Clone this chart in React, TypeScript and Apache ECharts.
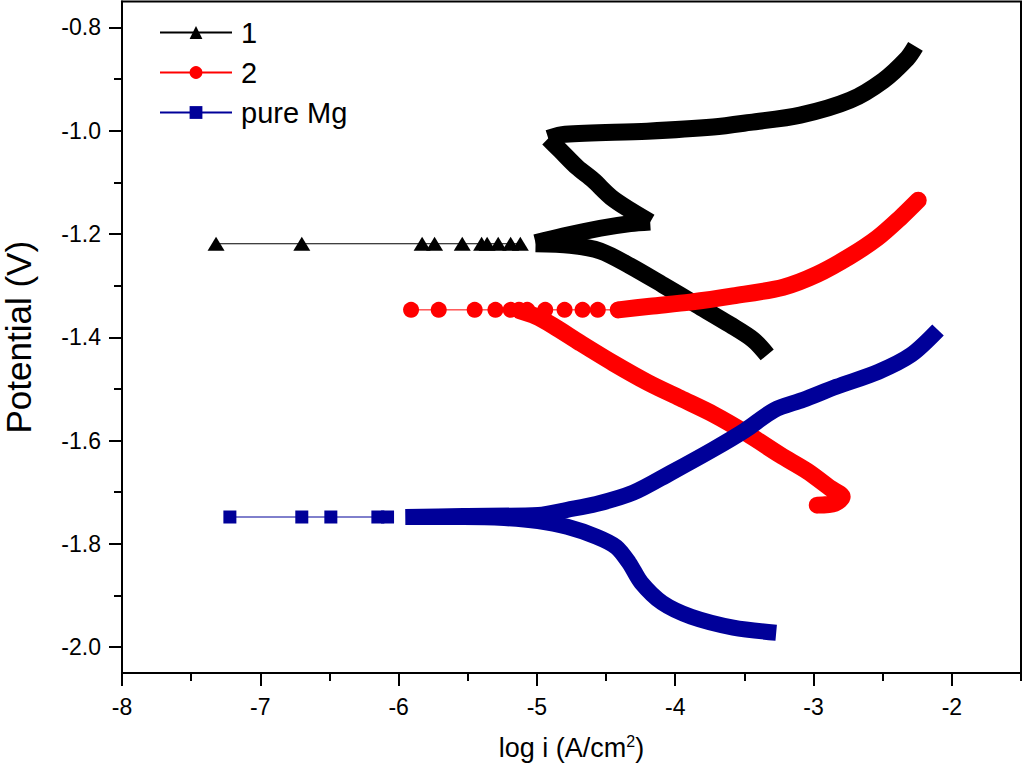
import React, { useEffect, useRef } from "react";
import * as echarts from "echarts";

// ---- axis ticks ----
const xMajorTicks = [-8, -7, -6, -5, -4, -3, -2];
const xMinorTicks = [-7.5, -6.5, -5.5, -4.5, -3.5, -2.5, -1.5];
const yMajorTicks = [-2.0, -1.8, -1.6, -1.4, -1.2, -1.0, -0.8];
const yMinorTicks = [-1.9, -1.7, -1.5, -1.3, -1.1, -0.9];

const seriesNames = ["1", "2", "pure Mg"];

// ---- sample 1 (black, triangles) : [log i, E] ----
const s1Sparse: number[][] = [
  [-7.32, -1.219], [-6.70, -1.219], [-5.83, -1.219], [-5.74, -1.219], [-5.54, -1.219],
  [-5.40, -1.219], [-5.36, -1.219], [-5.28, -1.219], [-5.19, -1.219], [-5.12, -1.219],
];
const s1Cathodic: number[][] = [
  [-3.335, -1.434], [-3.436, -1.405], [-3.602, -1.376], [-3.841, -1.338], [-4.087, -1.299],
  [-4.325, -1.262], [-4.542, -1.233], [-4.759, -1.222], [-5.01, -1.219],
];
const s1Rise: number[][] = [
  [-5.01, -1.217], [-4.81, -1.204], [-4.542, -1.189], [-4.325, -1.180], [-4.181, -1.177],
];
const s1Return: number[][] = [
  [-4.181, -1.177], [-4.325, -1.154], [-4.463, -1.129], [-4.593, -1.096], [-4.709, -1.071],
  [-4.832, -1.038], [-4.918, -1.015],
];
const s1Upper: number[][] = [
  [-4.918, -1.015], [-4.796, -1.007], [-4.202, -1.001], [-3.725, -0.993], [-3.458, -0.984],
  [-3.096, -0.970], [-2.735, -0.941], [-2.496, -0.903], [-2.322, -0.860], [-2.263, -0.837],
];

// ---- sample 2 (red, circles) ----
const s2Sparse: number[][] = [
  [-5.91, -1.347], [-5.71, -1.347], [-5.45, -1.347], [-5.30, -1.347], [-5.19, -1.347],
  [-5.13, -1.347], [-5.07, -1.347], [-4.94, -1.347], [-4.80, -1.347], [-4.67, -1.347],
  [-4.56, -1.347], [-4.41, -1.347],
];
const s2Cathodic: number[][] = [
  [-2.973, -1.725], [-2.843, -1.721], [-2.793, -1.709], [-2.879, -1.692], [-3.046, -1.659],
  [-3.241, -1.628], [-3.479, -1.587], [-3.725, -1.549], [-3.964, -1.518], [-4.202, -1.487],
  [-4.448, -1.450], [-4.687, -1.411], [-4.882, -1.378], [-5.012, -1.359], [-5.121, -1.349],
];
const s2Anodic: number[][] = [
  [-4.412, -1.347], [-4.181, -1.340], [-3.892, -1.332], [-3.581, -1.320], [-3.219, -1.303],
  [-2.973, -1.278], [-2.735, -1.243], [-2.539, -1.208], [-2.373, -1.169], [-2.243, -1.135],
];

// ---- pure Mg (blue, squares) ----
const s3Sparse: number[][] = [
  [-7.22, -1.748], [-6.70, -1.748], [-6.49, -1.748], [-6.15, -1.748], [-6.08, -1.748],
];
const s3Cathodic: number[][] = [
  [-3.27, -1.972], [-3.581, -1.962], [-3.884, -1.941], [-4.094, -1.914], [-4.246, -1.875],
  [-4.333, -1.837], [-4.427, -1.806], [-4.571, -1.786], [-4.781, -1.767], [-4.991, -1.756],
  [-5.236, -1.750], [-5.533, -1.748], [-5.95, -1.748],
];
const s3Anodic: number[][] = [
  [-5.95, -1.748], [-5.533, -1.746], [-4.991, -1.744], [-4.781, -1.734], [-4.571, -1.723],
  [-4.304, -1.701], [-4.036, -1.663], [-3.732, -1.618], [-3.494, -1.580], [-3.284, -1.541],
  [-3.074, -1.521], [-2.836, -1.496], [-2.532, -1.467], [-2.294, -1.434], [-2.10, -1.386],
];

const colors = ["#000000", "#ff0000", "#000099"];
const symbols = ["triangle", "circle", "rect"];
const symbolSizes: any[] = [[17, 14], 16, 13];
const bandWidths = [17, 17, 16];
const caps = ["butt", "round", "butt"];

const FONT = "'Liberation Sans', Arial, Helvetica, sans-serif";

export default function App() {
  const ref = useRef<HTMLDivElement>(null);

  useEffect(() => {
    if (!ref.current) return;
    const chart = echarts.init(ref.current, undefined, { renderer: "svg" });

    const groups: number[][][][] = [
      [s1Sparse, s1Cathodic, s1Rise, s1Return, s1Upper],
      [s2Sparse, s2Cathodic, s2Anodic],
      [s3Sparse, s3Cathodic, s3Anodic],
    ];

    const series: any[] = [];
    groups.forEach((g, i) => {
      series.push({
        name: seriesNames[i],
        type: "line",
        data: g[0],
        symbol: symbols[i],
        symbolSize: symbolSizes[i],
        showAllSymbol: true,
        itemStyle: { color: colors[i] },
        lineStyle: { color: colors[i], width: 1 },
        z: 3 + i,
      });
      g.slice(1).forEach((d) => {
        series.push({
          name: seriesNames[i],
          type: "line",
          data: d,
          symbol: "none",
          smooth: 0.3,
          itemStyle: { color: colors[i] },
          lineStyle: { color: colors[i], width: bandWidths[i], cap: caps[i], join: "round" },
          z: 3 + i,
        });
      });
    });

    const axisLineStyle = { color: "#000", width: 2 };
    const labelStyle = { color: "#000", fontSize: 23, fontFamily: FONT };

    chart.setOption({
      animation: false,
      backgroundColor: "#fff",
      grid: {
        left: 122,
        right: 3,
        top: 1.5,
        bottom: 102,
        containLabel: false,
        outerBoundsMode: "none",
        show: true,
        borderColor: "#000",
        borderWidth: 2,
        backgroundColor: "transparent",
      },
      legend: {
        data: seriesNames,
        orient: "vertical",
        left: 154,
        top: 13,
        itemWidth: 72,
        itemHeight: 16,
        itemGap: 11,
        selectedMode: false,
        textStyle: { color: "#000", fontSize: 29, fontFamily: FONT, padding: [0, 0, 0, 4] },
      },
      xAxis: [
        {
          type: "value",
          min: -8,
          max: -1.5,
          position: "bottom",
          axisLine: { show: true, lineStyle: axisLineStyle },
          axisTick: { show: true, inside: false, length: 13, customValues: xMajorTicks, lineStyle: axisLineStyle },
          axisLabel: { customValues: xMajorTicks, margin: 22, ...labelStyle },
          splitLine: { show: false },
          name: "log i (A/cm{sup|2})",
          nameLocation: "middle",
          nameGap: 60,
          nameTextStyle: {
            color: "#000",
            fontSize: 27,
            fontFamily: FONT,
            rich: {
              sup: { fontSize: 16, fontFamily: FONT, color: "#000", verticalAlign: "top", padding: [0, 0, 14, 0] },
            },
          },
        },
        {
          type: "value",
          min: -8,
          max: -1.5,
          position: "bottom",
          axisLine: { show: false },
          axisTick: { show: true, inside: false, length: 8, customValues: xMinorTicks, lineStyle: axisLineStyle },
          axisLabel: { show: false },
          splitLine: { show: false },
        },
      ],
      yAxis: [
        {
          type: "value",
          min: -2.05,
          max: -0.75,
          position: "left",
          axisLine: { show: true, lineStyle: axisLineStyle },
          axisTick: { show: true, inside: false, length: 13, customValues: yMajorTicks, lineStyle: axisLineStyle },
          axisLabel: {
            customValues: yMajorTicks,
            margin: 21,
            formatter: (v: number) => v.toFixed(1),
            ...labelStyle,
          },
          splitLine: { show: false },
          name: "Potential (V)",
          nameLocation: "middle",
          nameGap: 86,
          nameTextStyle: { color: "#000", fontSize: 35, fontFamily: FONT },
        },
        {
          type: "value",
          min: -2.05,
          max: -0.75,
          position: "left",
          axisLine: { show: false },
          axisTick: { show: true, inside: false, length: 8, customValues: yMinorTicks, lineStyle: axisLineStyle },
          axisLabel: { show: false },
          splitLine: { show: false },
        },
      ],
      series,
    });

    return () => chart.dispose();
  }, []);

  return (
    <div
      ref={ref}
      style={{ position: "absolute", left: 0, top: 0, width: 1024, height: 775, background: "#fff" }}
    />
  );
}
